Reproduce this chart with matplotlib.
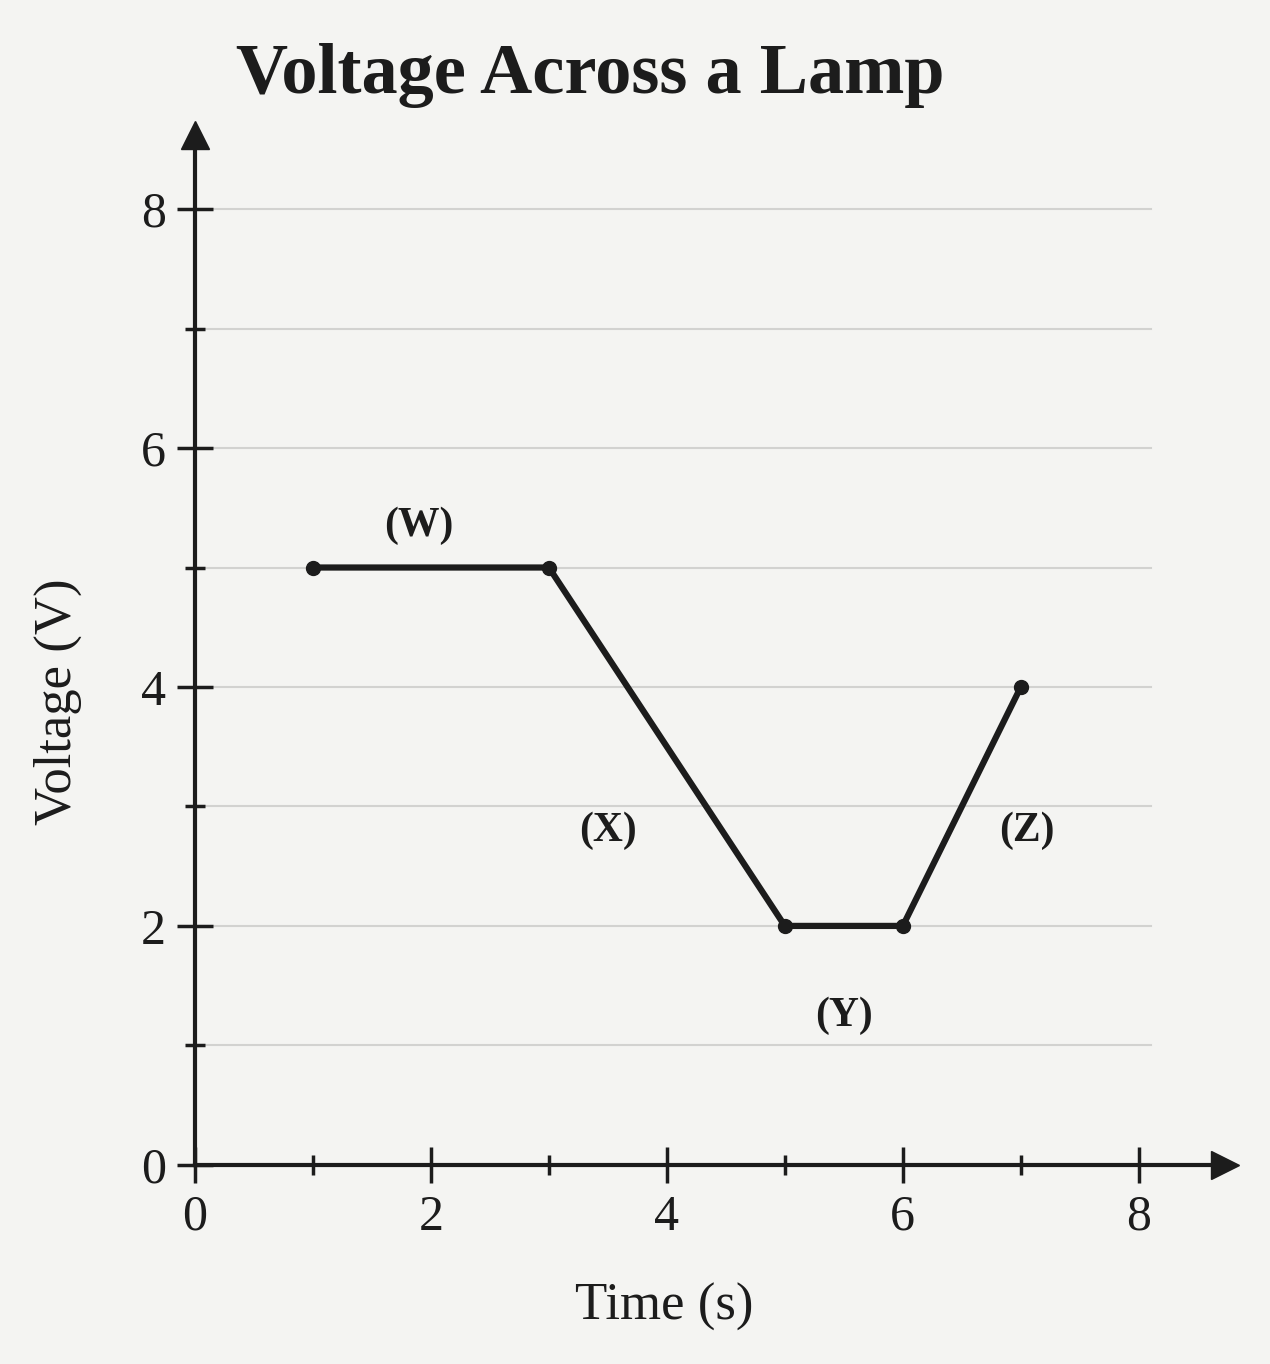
import matplotlib
matplotlib.use("Agg")
from matplotlib import pyplot as plt

# data
times = [1, 3, 5, 6, 7]
volts = [5, 5, 2, 2, 4]
seg_names = ["(W)", "(X)", "(Y)", "(Z)"]
seg_x = [1.9, 3.5, 5.5, 7.05]
seg_y = [5.35, 2.8, 1.25, 2.8]
major_ticks = [0, 2, 4, 6, 8]

plt.rcParams['font.family'] = ['Liberation Serif', 'DejaVu Serif']
ink = '#1c1c1c'

fig = plt.figure(figsize=(12.7, 13.64), dpi=100, facecolor='#f4f4f2')
ax = fig.add_axes([0.1535, 0.146, 0.811, 0.755])
ax.set_facecolor('#f4f4f2')
ax.set_xlim(0, 8.73)
ax.set_ylim(0, 8.62)

# light horizontal grid lines
for v in range(1, 9):
    ax.plot([0, 8.1], [v, v], color='#d2d2d0', lw=1.5, zorder=1)

# the voltage curve
ax.plot(times, volts, color=ink, lw=4.5, marker='o', ms=10, zorder=3)

for name, x, y in zip(seg_names, seg_x, seg_y):
    ax.text(x, y, name, fontsize=30, fontweight='bold', color=ink,
            ha='center', va='center')

# axes with arrows
for s in ['top', 'right']:
    ax.spines[s].set_visible(False)
ax.spines['left'].set_linewidth(3)
ax.spines['bottom'].set_linewidth(3)
ax.spines['left'].set_color(ink)
ax.spines['bottom'].set_color(ink)
ax.plot(1, 0, '>', color=ink, ms=20, transform=ax.transAxes, clip_on=False)
ax.plot(0, 1, '^', color=ink, ms=20, transform=ax.transAxes, clip_on=False)

ax.set_xticks(major_ticks)
ax.set_yticks(major_ticks)
ax.set_xticks(range(0, 9), minor=True)
ax.set_yticks(range(0, 9), minor=True)
ax.tick_params(axis='both', which='major', direction='inout', length=26,
               width=2.5, color=ink, labelsize=36, labelcolor=ink, pad=8)
ax.tick_params(axis='both', which='minor', direction='inout', length=14,
               width=2.5, color=ink)

ax.set_xlabel('Time (s)', fontsize=38, color=ink)
ax.set_ylabel('Voltage (V)', fontsize=38, color=ink)
ax.xaxis.set_label_coords(0.456, -0.115)
ax.yaxis.set_label_coords(-0.11, 0.45)
fig.text(0.465, 0.945, 'Voltage Across a Lamp', fontsize=52,
         fontweight='bold', color=ink, ha='center', va='center')

fig.savefig('out.png', dpi=100, facecolor=fig.get_facecolor())
